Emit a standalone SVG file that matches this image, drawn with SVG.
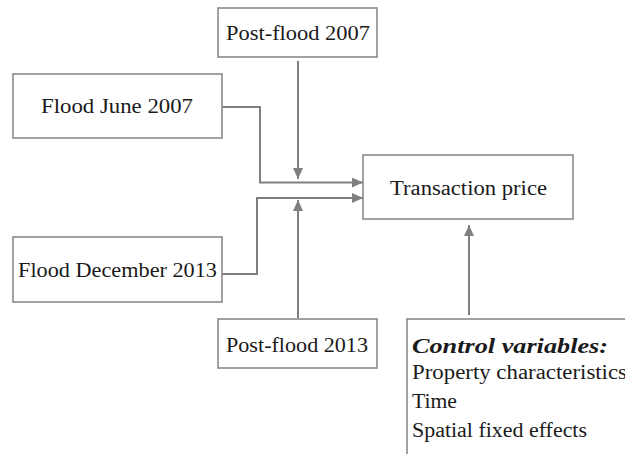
<svg xmlns="http://www.w3.org/2000/svg" width="625" height="454" viewBox="0 0 625 454">
<style>
.box{fill:#fff;stroke:#8a8a8a;stroke-width:1.6}
.t{font-family:"Liberation Serif","DejaVu Serif",serif;font-size:20px;fill:#1a1a1a}
.c{text-anchor:middle}
.conn{fill:none;stroke:#7f7f7f;stroke-width:2}
</style>
<defs>
<marker id="ah" markerUnits="userSpaceOnUse" markerWidth="11" markerHeight="10" refX="11" refY="5" orient="auto">
<path d="M0,0 L11,5 L0,10 z" fill="#7f7f7f"/>
</marker>
</defs>
<rect width="625" height="454" fill="#fff"/>
<g id="connectors">
<path class="conn" d="M222,107 H260 V182.5 H363" marker-end="url(#ah)"/>
<path class="conn" d="M222,274 H257 V198 H363" marker-end="url(#ah)"/>
<path class="conn" d="M298,61 V179" marker-end="url(#ah)"/>
<path class="conn" d="M298,318 V200" marker-end="url(#ah)"/>
<path class="conn" d="M469,315 V225" marker-end="url(#ah)"/>
</g>
<g id="post2007">
<rect class="box" x="218" y="8" width="159" height="49"/>
<text class="t c" x="298" y="40" textLength="144" lengthAdjust="spacingAndGlyphs">Post-flood 2007</text>
</g>
<g id="flood2007">
<rect class="box" x="13" y="74" width="209" height="64"/>
<text class="t c" x="117" y="113" textLength="152" lengthAdjust="spacingAndGlyphs">Flood June 2007</text>
</g>
<g id="flood2013">
<rect class="box" x="13" y="237" width="209" height="65"/>
<text class="t c" x="117.5" y="277" textLength="199" lengthAdjust="spacingAndGlyphs">Flood December 2013</text>
</g>
<g id="post2013">
<rect class="box" x="218" y="319" width="159" height="49"/>
<text class="t c" x="297" y="352" textLength="142" lengthAdjust="spacingAndGlyphs">Post-flood 2013</text>
</g>
<g id="price">
<rect class="box" x="363" y="155" width="210" height="64"/>
<text class="t c" x="468.5" y="195" textLength="157" lengthAdjust="spacingAndGlyphs">Transaction price</text>
</g>
<g id="controls">
<rect class="box" x="407" y="319" width="240" height="160"/>
<text class="t" x="412" y="353" font-weight="bold" font-style="italic" textLength="196" lengthAdjust="spacingAndGlyphs">Control variables:</text>
<text class="t" x="412" y="379" textLength="215" lengthAdjust="spacingAndGlyphs">Property characteristics</text>
<text class="t" x="412" y="408" textLength="45" lengthAdjust="spacingAndGlyphs">Time</text>
<text class="t" x="412" y="437" textLength="175" lengthAdjust="spacingAndGlyphs">Spatial fixed effects</text>
</g>
</svg>
